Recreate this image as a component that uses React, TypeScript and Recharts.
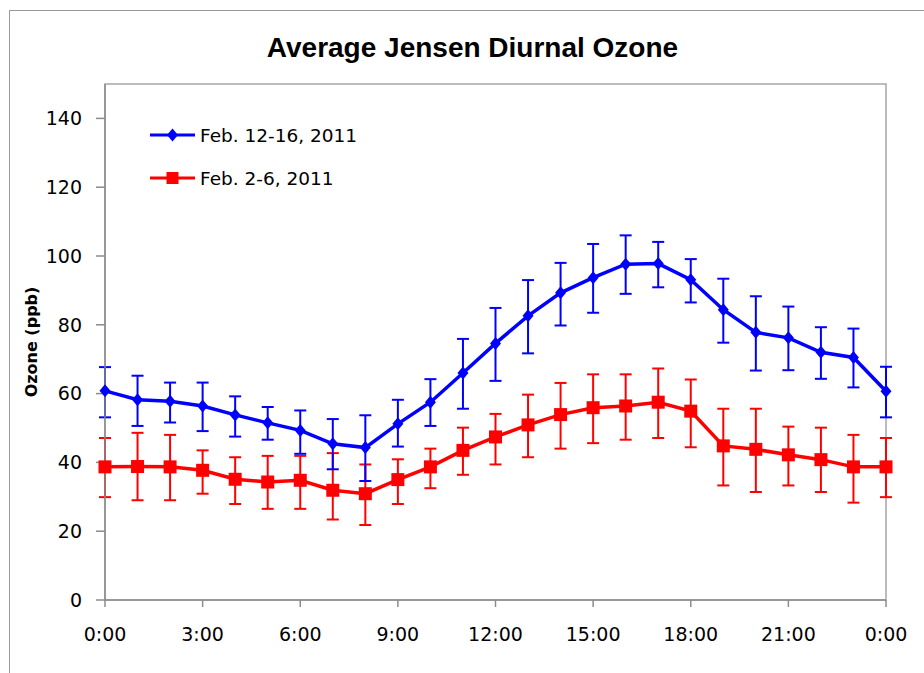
import React from 'react';
import { LineChart, Line, XAxis, YAxis, ErrorBar, ReferenceArea } from 'recharts';

const TITLE = 'Average Jensen Diurnal Ozone';
const Y_LABEL = 'Ozone (ppb)';
const SERIES_BLUE_NAME = 'Feb. 12-16, 2011';
const SERIES_RED_NAME = 'Feb. 2-6, 2011';

const hours = [0, 1, 2, 3, 4, 5, 6, 7, 8, 9, 10, 11, 12, 13, 14, 15, 16, 17, 18, 19, 20, 21, 22, 23, 24];
const xTicks = [0, 3, 6, 9, 12, 15, 18, 21, 24];
const yTicks = [0, 20, 40, 60, 80, 100, 120, 140];

const blue = [60.8, 58.2, 57.8, 56.4, 53.8, 51.5, 49.3, 45.4, 44.3, 51.2, 57.5, 66.0, 74.6, 82.6, 89.3, 93.7, 97.6, 97.8, 93.1, 84.4, 77.8, 76.2, 72.0, 70.5, 60.7];
const blueHi = [67.7, 65.2, 63.2, 63.2, 59.2, 56.1, 55.1, 52.6, 53.7, 58.2, 64.2, 75.9, 84.9, 93.0, 98.0, 103.5, 106.0, 104.1, 99.1, 93.4, 88.3, 85.3, 79.3, 78.9, 67.8];
const blueLo = [53.1, 50.6, 51.6, 49.1, 47.5, 46.6, 42.5, 38.0, 34.6, 44.6, 50.6, 55.6, 63.7, 71.7, 79.8, 83.5, 89.0, 90.9, 86.5, 74.8, 66.7, 66.8, 64.3, 61.8, 53.1];

const red = [38.7, 38.8, 38.7, 37.7, 35.1, 34.3, 34.8, 31.9, 30.9, 35.0, 38.7, 43.5, 47.4, 50.9, 53.9, 55.9, 56.4, 57.5, 54.9, 44.8, 43.8, 42.2, 40.8, 38.7, 38.7];
const redHi = [47.1, 48.6, 48.0, 43.5, 41.5, 41.9, 41.9, 42.7, 39.4, 40.9, 44.0, 50.1, 54.1, 59.7, 63.1, 65.6, 65.6, 67.3, 64.1, 55.6, 55.6, 50.4, 50.1, 48.0, 47.1];
const redLo = [29.9, 29.0, 29.0, 30.9, 27.9, 26.5, 26.5, 23.4, 21.8, 27.9, 32.5, 36.4, 39.4, 41.5, 44.0, 45.6, 46.6, 47.1, 44.4, 33.3, 31.4, 33.3, 31.4, 28.3, 29.9];

const BLUE = '#0000FF';
const RED = '#FF0000';
const AXIS = '#8c8c8c';
const FONT = '"DejaVu Sans", sans-serif';

const data = hours.map((h, i) => ({
  hour: h,
  blue: blue[i],
  blueErr: [+(blue[i] - blueLo[i]).toFixed(2), +(blueHi[i] - blue[i]).toFixed(2)],
  red: red[i],
  redErr: [+(red[i] - redLo[i]).toFixed(2), +(redHi[i] - red[i]).toFixed(2)],
}));

const diamondPath = (cx: number, cy: number) =>
  `M${cx},${cy - 6.5} L${cx + 5.5},${cy} L${cx},${cy + 6.5} L${cx - 5.5},${cy} Z`;

const DiamondDot = (props: any) => {
  const { cx, cy, index } = props;
  if (cx == null || cy == null) return <g key={`bd${index}`} />;
  return <path key={`bd${index}`} d={diamondPath(cx, cy)} fill={BLUE} stroke="none" />;
};

const SquareDot = (props: any) => {
  const { cx, cy, index } = props;
  if (cx == null || cy == null) return <g key={`rd${index}`} />;
  return <rect key={`rd${index}`} x={cx - 6.5} y={cy - 6.5} width={13} height={13} fill={RED} stroke="none" />;
};

const YLabel = (props: any) => {
  const vb = props.viewBox || { x: 0, y: 0, height: 0 };
  const cx = vb.x + 21;
  const cy = vb.y + vb.height / 2;
  return (
    <text
      x={cx}
      y={cy}
      transform={`rotate(-90 ${cx} ${cy})`}
      textAnchor="middle"
      dominantBaseline="central"
      style={{ fontFamily: FONT, fontSize: 16, fontWeight: 'bold', fill: '#000' }}
    >
      {Y_LABEL}
    </text>
  );
};

export default function App() {
  return (
    <div
      style={{
        position: 'absolute',
        left: 9,
        top: 10,
        width: 915,
        height: 663,
        boxSizing: 'border-box',
        borderTop: '1px solid #9a9a9a',
        borderLeft: '1px solid #9a9a9a',
        background: '#fff',
        overflow: 'hidden',
      }}
    >
      <div
        style={{
          position: 'absolute',
          left: 212.5,
          top: 23.3,
          width: 500,
          textAlign: 'center',
          fontFamily: '"Liberation Sans", Arial, sans-serif',
          fontWeight: 'bold',
          fontSize: 28,
          lineHeight: '28px',
          color: '#000',
          whiteSpace: 'nowrap',
        }}
      >
        {TITLE}
      </div>
      <LineChart
        width={906}
        height={654}
        data={data}
        margin={{ top: 73, right: 30, bottom: 0, left: 0 }}
      >
        <ReferenceArea
          x1={0}
          x2={24}
          y1={0}
          y2={150}
          fill="none"
          stroke="#a6a6a6"
          strokeWidth={1.5}
          ifOverflow="visible"
        />
        <XAxis
          dataKey="hour"
          type="number"
          domain={[0, 24]}
          ticks={xTicks}
          interval={0}
          tickFormatter={(h: number) => `${h % 24}:00`}
          height={65}
          tickSize={7}
          tickMargin={21}
          axisLine={{ stroke: AXIS, strokeWidth: 1.5 }}
          tickLine={{ stroke: AXIS, strokeWidth: 1.5 }}
          tick={{ fontFamily: FONT, fontSize: 19, fill: '#000' }}
        />
        <YAxis
          type="number"
          domain={[0, 150]}
          ticks={yTicks}
          interval={0}
          width={95}
          tickSize={9}
          tickMargin={14}
          axisLine={{ stroke: AXIS, strokeWidth: 1.5 }}
          tickLine={{ stroke: AXIS, strokeWidth: 1.5 }}
          tick={{ fontFamily: FONT, fontSize: 19, fill: '#000' }}
          label={<YLabel />}
        />
        <Line
          dataKey="red"
          name={SERIES_RED_NAME}
          stroke={RED}
          strokeWidth={3.5}
          dot={SquareDot}
          activeDot={false}
          isAnimationActive={false}
        >
          <ErrorBar dataKey="redErr" direction="y" width={6} stroke={RED} strokeWidth={2} isAnimationActive={false} />
        </Line>
        <Line
          dataKey="blue"
          name={SERIES_BLUE_NAME}
          stroke={BLUE}
          strokeWidth={3.5}
          dot={DiamondDot}
          activeDot={false}
          isAnimationActive={false}
        >
          <ErrorBar dataKey="blueErr" direction="y" width={6} stroke={BLUE} strokeWidth={2} isAnimationActive={false} />
        </Line>
      </LineChart>
      <svg
        width={270}
        height={80}
        style={{ position: 'absolute', left: 130, top: 100, overflow: 'visible' }}
      >
        <line x1={10} y1={24} x2={55} y2={24} stroke={BLUE} strokeWidth={3} />
        <path d={diamondPath(32.5, 24)} fill={BLUE} />
        <text x={60} y={24} dominantBaseline="central" style={{ fontFamily: FONT, fontSize: 18.5, fill: '#000' }}>
          {SERIES_BLUE_NAME}
        </text>
        <line x1={10} y1={67} x2={55} y2={67} stroke={RED} strokeWidth={3} />
        <rect x={26.5} y={61} width={12} height={12} fill={RED} />
        <text x={60} y={67} dominantBaseline="central" style={{ fontFamily: FONT, fontSize: 18.5, fill: '#000' }}>
          {SERIES_RED_NAME}
        </text>
      </svg>
    </div>
  );
}
